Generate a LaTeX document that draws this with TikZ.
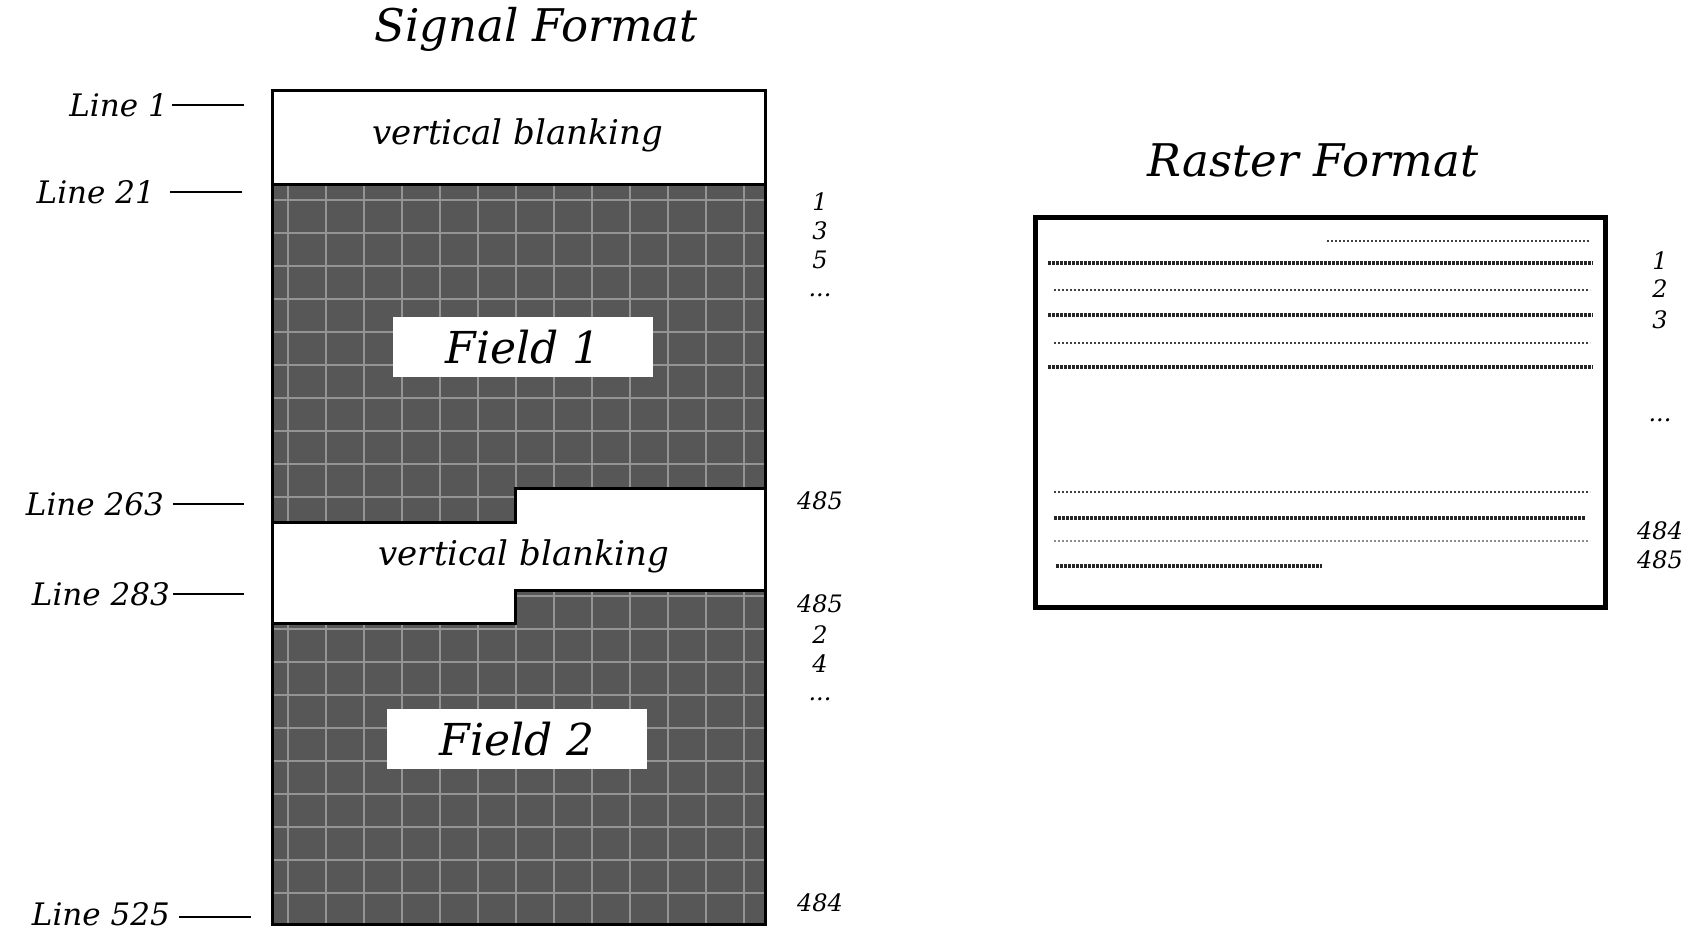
\documentclass[tikz,border=0pt]{standalone}
\usepackage{fontspec}
\setmainfont{DejaVu Serif}

\def\fieldone{(272,184) -- (765,184) -- (765,488) -- (515,488) -- (515,522) -- (272,522) -- cycle}
\def\fieldtwo{(272,623) -- (515,623) -- (515,590) -- (765,590) -- (765,924) -- (272,924) -- cycle}

\begin{document}
\begin{tikzpicture}[x=1pt,y=-1pt,
        title/.style={font=\itshape\fontsize{45}{45}\selectfont, inner sep=0pt},
        linelbl/.style={font=\itshape\fontsize{31}{31}\selectfont, inner sep=0pt, anchor=east},
        blank/.style={font=\itshape\fontsize{34}{34}\selectfont, inner sep=0pt},
        fieldlbl/.style={font=\itshape\fontsize{44}{44}\selectfont, fill=white,
            minimum width=260pt, minimum height=60pt, inner sep=0pt},
        num/.style={font=\itshape\fontsize{24}{24}\selectfont, inner sep=0pt},
        tick/.style={line width=2.5pt},
        gridline/.style={draw=black!42, line width=2pt},
        scanodd/.style={draw=black!75, line width=1.6pt, dash pattern=on 1.6pt off 2.4pt},
        scaneven/.style={draw=black!85, line width=4pt, dash pattern=on 3pt off 1pt}
    ]
    \useasboundingbox (0,0) rectangle (1699,934);

    % ---- signal format ----
    \node[title] (sigtitle) at (536,29) {Signal Format};

    \fill[black!66] \fieldone;
    \fill[black!66] \fieldtwo;
    \begin{scope}
        \clip \fieldone \fieldtwo;
        \foreach \gx in {288,326,...,765}
            \draw[gridline] (\gx,184) -- (\gx,924);
        \foreach \gy in {200,233,...,924}
            \draw[gridline] (272,\gy) -- (765,\gy);
    \end{scope}
    \draw[line width=3pt] \fieldone;
    \draw[line width=3pt] \fieldtwo;
    \draw[line width=3pt] (272,90) rectangle (765,924);

    \node[blank] (vb1) at (518,135) {vertical blanking};
    \node[blank] (vb2) at (524,556) {vertical blanking};
    \node[fieldlbl] (f1) at (523,347) {Field 1};
    \node[fieldlbl] (f2) at (517,739) {Field 2};

    \node[linelbl] (l1) at (168,105) {Line 1};
    \node[linelbl] (l21) at (155,192) {Line 21};
    \node[linelbl] (l263) at (164,504) {Line 263};
    \node[linelbl] (l283) at (170,594) {Line 283};
    \node[linelbl] (l525) at (170,914) {Line 525};
    \coordinate (t1) at (244,105);
    \coordinate (t21) at (242,192);
    \coordinate (t263) at (244,504);
    \coordinate (t283) at (244,594);
    \coordinate (t525) at (251,917);
    \draw[tick] ([xshift=4pt]l1.east) -- (t1);
    \draw[tick] ([xshift=15pt]l21.east) -- (t21);
    \draw[tick] ([xshift=9pt]l263.east) -- (t263);
    \draw[tick] ([xshift=3pt]l283.east) -- (t283);
    \draw[tick] ([xshift=9pt,yshift=-3pt]l525.east) -- (t525);

    \node[num] (a1) at (820,202) {1};
    \node[num] (a3) at (820,231) {3};
    \node[num] (a5) at (820,260) {5};
    \node[num] (adots) at (820,295) {...};
    \node[num] (a485) at (820,501) {485};
    \node[num] (b485) at (820,604) {485};
    \node[num] (b2) at (820,635) {2};
    \node[num] (b4) at (820,664) {4};
    \node[num] (bdots) at (820,699) {...};
    \node[num] (b484) at (820,903) {484};

    % ---- raster format ----
    \node[title] (rastitle) at (1313,160) {Raster Format};
    \draw[line width=5pt] (1035,217) rectangle (1605,607);

    \draw[scanodd] (1327,241) -- (1590,241);
    \draw[scaneven] (1048,263) -- (1593,263);
    \draw[scanodd] (1054,290) -- (1590,290);
    \draw[scaneven] (1048,315) -- (1593,315);
    \draw[scanodd] (1054,343) -- (1590,343);
    \draw[scaneven] (1048,367) -- (1593,367);
    \draw[scanodd] (1054,492) -- (1590,492);
    \draw[scaneven] (1054,518) -- (1585,518);
    \draw[scanodd, draw=black!45] (1054,541) -- (1590,541);
    \draw[scaneven] (1056,566) -- (1322,566);

    \node[num] (r1) at (1660,261) {1};
    \node[num] (r2) at (1660,289) {2};
    \node[num] (r3) at (1660,320) {3};
    \node[num] (rdots) at (1660,420) {...};
    \node[num] (r484) at (1660,531) {484};
    \node[num] (r485) at (1660,560) {485};
\end{tikzpicture}
\end{document}
